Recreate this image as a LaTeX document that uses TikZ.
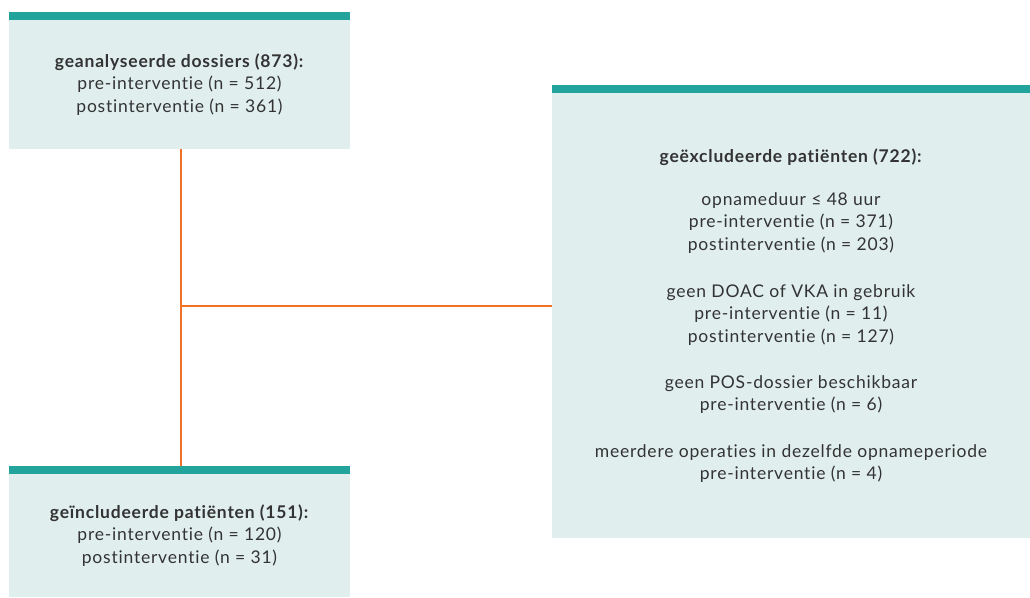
\documentclass[tikz,border=0pt]{standalone}
\usepackage{fontspec}
\setmainfont{Lato}[Ligatures=NoCommon, LetterSpace=4.5]
\usepackage{tikz}
\usetikzlibrary{positioning}

\definecolor{barteal}{HTML}{22A39B}
\definecolor{boxfill}{HTML}{E0EEEE}
\definecolor{lineorange}{HTML}{F07026}
\definecolor{txtgray}{HTML}{333333}

\tikzset{
  flowbox/.style={fill=boxfill, text=txtgray, align=center, inner sep=0pt,
    font=\fontsize{17.5}{22.6}\selectfont},
  topbar/.style={fill=barteal},
  link/.style={draw=lineorange, line width=2.4pt},
}

\begin{document}
\begin{tikzpicture}[x=1pt,y=1pt]
    \useasboundingbox (0,0) rectangle (1030,597);

    % connectors
    \coordinate (split) at (181,291);
    \node [flowbox, minimum width=341pt, minimum height=129pt] (dossiers) at (179.5,512.5)
      {\textbf{geanalyseerde dossiers (873):}\\
       pre-interventie (n = 512)\\
       postinterventie (n = 361)};
    \node [flowbox, minimum width=341pt, minimum height=123pt] (included) at (179.5,61.5)
      {\textbf{geïncludeerde patiënten (151):}\\
       pre-interventie (n = 120)\\
       postinterventie (n = 31)};
    \node [flowbox, minimum width=478pt, minimum height=445pt] (excluded) at (791,281.5)
      {\textbf{geëxcludeerde patiënten (722):}\\[20.5pt]
       opnameduur ≤ 48 uur\\
       pre-interventie (n = 371)\\
       postinterventie (n = 203)\\[24pt]
       geen DOAC of VKA in gebruik\\
       pre-interventie (n = 11)\\
       postinterventie (n = 127)\\[23.5pt]
       geen POS-dossier beschikbaar\\
       pre-interventie (n = 6)\\[23.5pt]
       meerdere operaties in dezelfde opnameperiode\\
       pre-interventie (n = 4)};

    \draw [link] ([xshift=1.5pt]dossiers.south) -- ([xshift=1.5pt]included.north);
    \draw [link] (split) -- (split -| excluded.west);

    % top bars
    \fill [topbar] (dossiers.north west) rectangle ++(341,8);
    \fill [topbar] (included.north west) rectangle ++(341,8);
    \fill [topbar] (excluded.north west) rectangle ++(478,8);
\end{tikzpicture}
\end{document}
